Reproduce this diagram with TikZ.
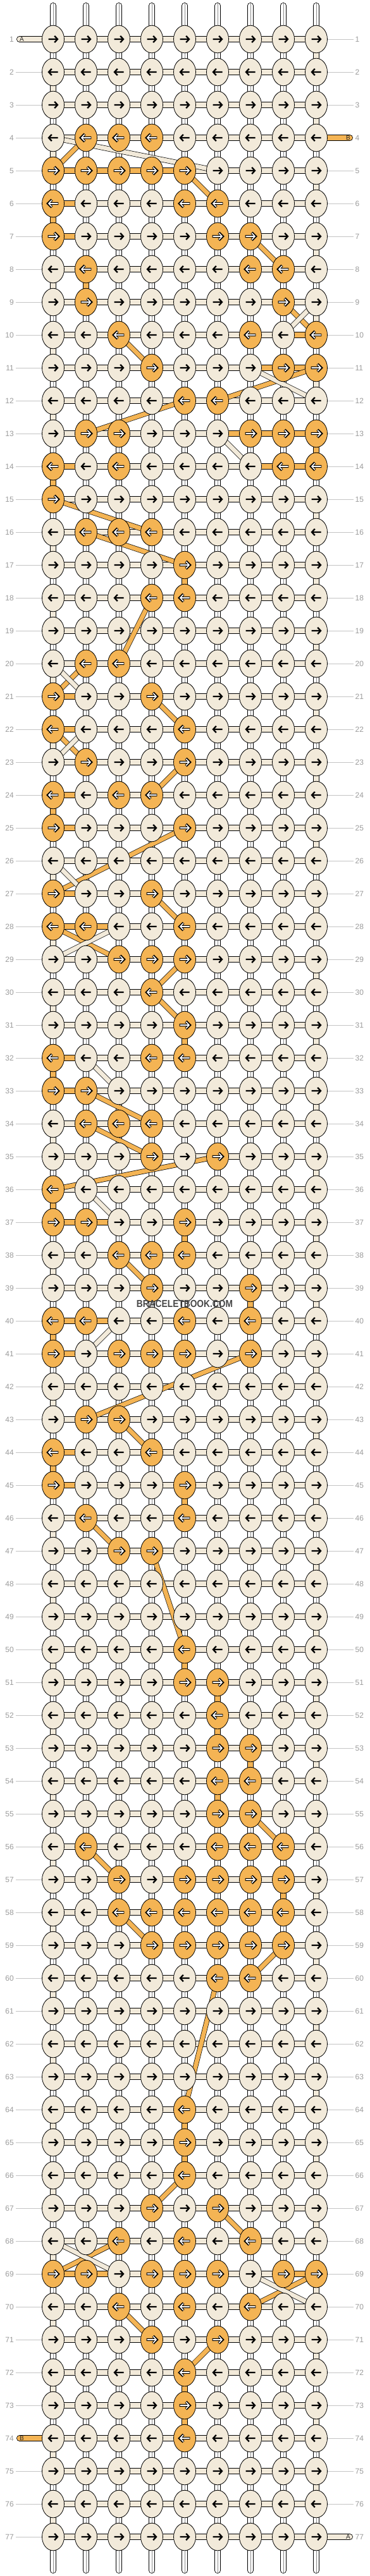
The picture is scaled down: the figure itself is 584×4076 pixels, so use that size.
\documentclass[tikz,border=0pt]{standalone}
\usepackage{fontspec}
\setmainfont{Liberation Sans}
\usetikzlibrary{shapes.geometric}
\definecolor{cr}{HTML}{F2EADA}
\definecolor{og}{HTML}{F4B454}
\definecolor{lbl}{HTML}{9B9B9B}
\definecolor{gl}{HTML}{C4C4C4}
\definecolor{wmk}{HTML}{474747}
\begin{document}
\begin{tikzpicture}[x=1pt,y=-1pt,
 band/.style={draw=black,line width=0.8pt,double=#1,double distance=8.4pt},
 dband/.style={draw=black,line width=0.7pt,double=#1,double distance=6.8pt},
 knot/.style={ellipse,draw=black,line width=0.8pt,minimum width=35pt,minimum height=43.5pt,inner sep=0pt,fill=cr},
 oknot/.style={knot,fill=og},
 arrk/.style={line width=2.3pt,black,line join=miter},
 arrwo/.style={line width=4.2pt,black,line join=miter},
 arrw/.style={line width=1.6pt,white,line join=miter},
 lab/.style={font=\fontsize{12}{12}\selectfont,text=lbl,inner sep=3pt},
 guide/.style={gl,line width=0.8pt},
 tlab/.style={font=\fontsize{10}{10}\selectfont,text=black!85,inner sep=0pt},
 mid/.style={line width=0.5pt,black!45}
]
\useasboundingbox (0,0) rectangle (584,4076);
% coordinates
\foreach \r in {1,...,77}{
  \foreach \c in {1,...,9}{
    \coordinate (p\r-\c) at ({84+52*(\c-1)},{62+52*(\r-1)});
  }
}
\foreach \c in {1,...,9}{
  \coordinate (top\c) at ({84+52*(\c-1)},9);
  \coordinate (bot\c) at ({84+52*(\c-1)},4067);
  \draw[band=white,line cap=round] (top\c) -- (bot\c);
  \draw[mid] ([yshift=4pt]top\c) -- ([yshift=-4pt]bot\c);
}
% horizontal working thread
\foreach \r in {1,...,77}{
  \draw[band=cr] (p\r-1) -- (p\r-9);
}
% edge turns
\foreach \r in {2,4,...,76}{
  \pgfmathtruncatemacro\n{\r+1}
  \draw[band=cr] (p\r-1) -- (p\n-1);
}
\foreach \r in {1,3,...,75}{
  \pgfmathtruncatemacro\n{\r+1}
  \draw[band=cr] (p\r-9) -- (p\n-9);
}
% orange vertical segments
\foreach \c/\r in {1/6,1/14,1/24,1/32,1/36,1/40,1/44,2/8,5/17,5/31,5/37,5/45,5/50,5/64,5/65,5/72,5/73,6/51,6/52,6/54,7/39,7/53,8/57,9/13}{
  \pgfmathtruncatemacro\n{\r+1}
  \draw[band=og] (p\r-\c) -- (p\n-\c);
}
% orange horizontal segments
\foreach \r/\a/\b in {5/1/5,6/1/2,7/1/2,10/8/9,11/7/9,13/6/9,14/7/9,14/1/2,21/1/2,22/1/2,24/1/2,25/1/2,27/1/2,28/1/3,32/1/2,33/1/2,37/1/3,40/1/3,41/1/2,44/1/2,45/1/2,69/1/3,69/8/9}{
  \draw[band=og] (p\r-\a) -- (p\r-\b);
}
% orange carried threads
\foreach \ra/\ca/\rb/\cb in {4/2/5/1,5/5/6/6,7/7/8/8,9/8/10/9,10/3/11/4,11/9/12/6,12/5/13/2,15/1/16/4,16/2/17/5,18/4/20/3,20/2/21/1,21/4/22/5,22/1/23/2,23/5/24/4,25/5/27/1,27/4/28/5,28/1/29/3,29/5/30/4,30/4/31/5,33/2/34/4,34/2/35/4,35/6/36/1,38/3/39/4,41/7/43/2,43/3/44/4,46/2/47/3,47/4/50/5,55/7/56/8,56/2/57/3,58/3/59/4,59/8/60/7,60/6/64/5,66/5/67/4,67/6/68/7,68/3/69/1,69/9/70/7,70/3/71/4,71/6/72/5}{
  \draw[dband=og] (p\ra-\ca) -- (p\rb-\cb);
}
% cream carried threads
\foreach \ra/\ca/\rb/\cb in {4/1/5/6,9/9/10/8,11/7/12/9,13/6/14/7,20/1/21/2,22/2/23/1,26/1/27/2,28/3/29/1,32/2/33/3,36/2/37/3,40/3/41/2,68/1/69/3,69/7/70/9}{
  \draw[dband=cr] (p\ra-\ca) -- (p\rb-\cb);
}
% tails
\coordinate (tl1) at (31,62);
\coordinate (tr4) at (553,218);
\coordinate (tl74) at (31,3858);
\coordinate (tr77) at (553,4014);
\draw[band=cr,line cap=round] (tl1) -- (p1-1);
\draw[band=og,line cap=round] (p4-9) -- (tr4);
\draw[band=og,line cap=round] (tl74) -- (p74-1);
\draw[band=cr,line cap=round] (p77-9) -- (tr77);
\node[tlab] (tA1) at (34.5,62) {A};
\node[tlab] (tB4) at (550.5,218) {B};
\node[tlab] (tB74) at (34.5,3858) {B};
\node[tlab] (tA77) at (550.5,4014) {A};
% knots
\foreach \r/\s in {
1/{0,0,0,0,0,0,0,0,0},
2/{0,0,0,0,0,0,0,0,0},
3/{0,0,0,0,0,0,0,0,0},
4/{0,1,1,1,0,0,0,0,0},
5/{1,1,1,1,1,0,0,0,0},
6/{1,0,0,0,1,1,0,0,0},
7/{1,0,0,0,0,1,1,0,0},
8/{0,1,0,0,0,0,1,1,0},
9/{0,1,0,0,0,0,0,1,0},
10/{0,0,1,0,0,0,1,0,1},
11/{0,0,0,1,0,0,0,1,1},
12/{0,0,0,0,1,1,0,0,0},
13/{0,1,1,0,0,0,1,1,1},
14/{1,0,1,0,0,0,0,1,1},
15/{1,0,0,0,0,0,0,0,0},
16/{0,1,1,1,0,0,0,0,0},
17/{0,0,0,0,1,0,0,0,0},
18/{0,0,0,1,1,0,0,0,0},
19/{0,0,0,0,0,0,0,0,0},
20/{0,1,1,0,0,0,0,0,0},
21/{1,0,0,1,0,0,0,0,0},
22/{1,0,0,0,1,0,0,0,0},
23/{0,1,0,0,1,0,0,0,0},
24/{1,0,1,1,0,0,0,0,0},
25/{1,0,0,0,1,0,0,0,0},
26/{0,0,0,0,0,0,0,0,0},
27/{1,0,0,1,0,0,0,0,0},
28/{1,1,0,0,1,0,0,0,0},
29/{0,0,1,1,1,0,0,0,0},
30/{0,0,0,1,0,0,0,0,0},
31/{0,0,0,0,1,0,0,0,0},
32/{1,0,0,1,1,0,0,0,0},
33/{1,1,0,0,0,0,0,0,0},
34/{0,1,1,1,0,0,0,0,0},
35/{0,0,0,1,0,1,0,0,0},
36/{1,0,0,0,0,0,0,0,0},
37/{1,1,0,0,1,0,0,0,0},
38/{0,0,1,1,1,0,0,0,0},
39/{0,0,0,1,0,0,1,0,0},
40/{1,1,0,0,1,0,1,0,0},
41/{1,0,1,1,1,0,1,0,0},
42/{0,0,0,0,0,0,0,0,0},
43/{0,1,1,0,0,0,0,0,0},
44/{1,0,0,1,0,0,0,0,0},
45/{1,0,0,0,1,0,0,0,0},
46/{0,1,0,0,1,0,0,0,0},
47/{0,0,1,1,0,0,0,0,0},
48/{0,0,0,0,0,0,0,0,0},
49/{0,0,0,0,0,0,0,0,0},
50/{0,0,0,0,1,0,0,0,0},
51/{0,0,0,0,1,1,0,0,0},
52/{0,0,0,0,0,1,0,0,0},
53/{0,0,0,0,0,1,1,0,0},
54/{0,0,0,0,0,1,1,0,0},
55/{0,0,0,0,0,1,1,0,0},
56/{0,1,0,0,0,1,1,1,0},
57/{0,0,1,0,1,1,1,1,0},
58/{0,0,1,1,1,1,1,1,0},
59/{0,0,0,1,1,1,1,1,0},
60/{0,0,0,0,0,1,1,0,0},
61/{0,0,0,0,0,0,0,0,0},
62/{0,0,0,0,0,0,0,0,0},
63/{0,0,0,0,0,0,0,0,0},
64/{0,0,0,0,1,0,0,0,0},
65/{0,0,0,0,1,0,0,0,0},
66/{0,0,0,0,1,0,0,0,0},
67/{0,0,0,1,0,1,0,0,0},
68/{0,0,1,0,1,0,1,0,0},
69/{1,1,0,1,1,1,0,1,1},
70/{0,0,1,0,1,0,1,0,0},
71/{0,0,0,1,0,1,0,0,0},
72/{0,0,0,0,1,0,0,0,0},
73/{0,0,0,0,1,0,0,0,0},
74/{0,0,0,0,1,0,0,0,0},
75/{0,0,0,0,0,0,0,0,0},
76/{0,0,0,0,0,0,0,0,0},
77/{0,0,0,0,0,0,0,0,0}}{
  \ifodd\r\relax \def\sx{1}\else \def\sx{-1}\fi
  \foreach \v [count=\c] in \s {
    \ifnum\v=1
      \node[oknot] (k\r-\c) at (p\r-\c) {};
      \begin{scope}[shift={(p\r-\c)},xscale=\sx]
        \draw[arrwo] (-8.4,0)--(7.6,0) (2.0,-5.8)--(7.8,0)--(2.0,5.8);
        \draw[arrw] (-7.5,0)--(7,0) (2.2,-5.2)--(7,0)--(2.2,5.2);
      \end{scope}
    \else
      \node[knot] (k\r-\c) at (p\r-\c) {};
      \begin{scope}[shift={(p\r-\c)},xscale=\sx]
        \draw[arrk] (-7.5,0)--(7,0) (2.2,-5.2)--(7,0)--(2.2,5.2);
      \end{scope}
    \fi
  }
}
% row labels and guide lines
\foreach \r in {1,...,77}{
  \pgfmathsetmacro\yy{62+52*(\r-1)}
  \node[lab,anchor=east] (L\r) at (25,\yy) {\r};
  \node[lab,anchor=west] (R\r) at (558.5,\yy) {\r};
  \ifnum\r=1 \else\ifnum\r=74 \else
    \draw[guide] (L\r.east) -- (k\r-1.west);
  \fi\fi
  \ifnum\r=4 \else\ifnum\r=77 \else
    \draw[guide] (k\r-9.east) -- (R\r.west);
  \fi\fi
}
\node[font=\fontsize{16}{16}\selectfont\bfseries,text=wmk,xscale=0.86,transform shape,inner sep=0pt] (wm) at (292,2063) {BRACELETBOOK.COM};
\end{tikzpicture}
\end{document}
